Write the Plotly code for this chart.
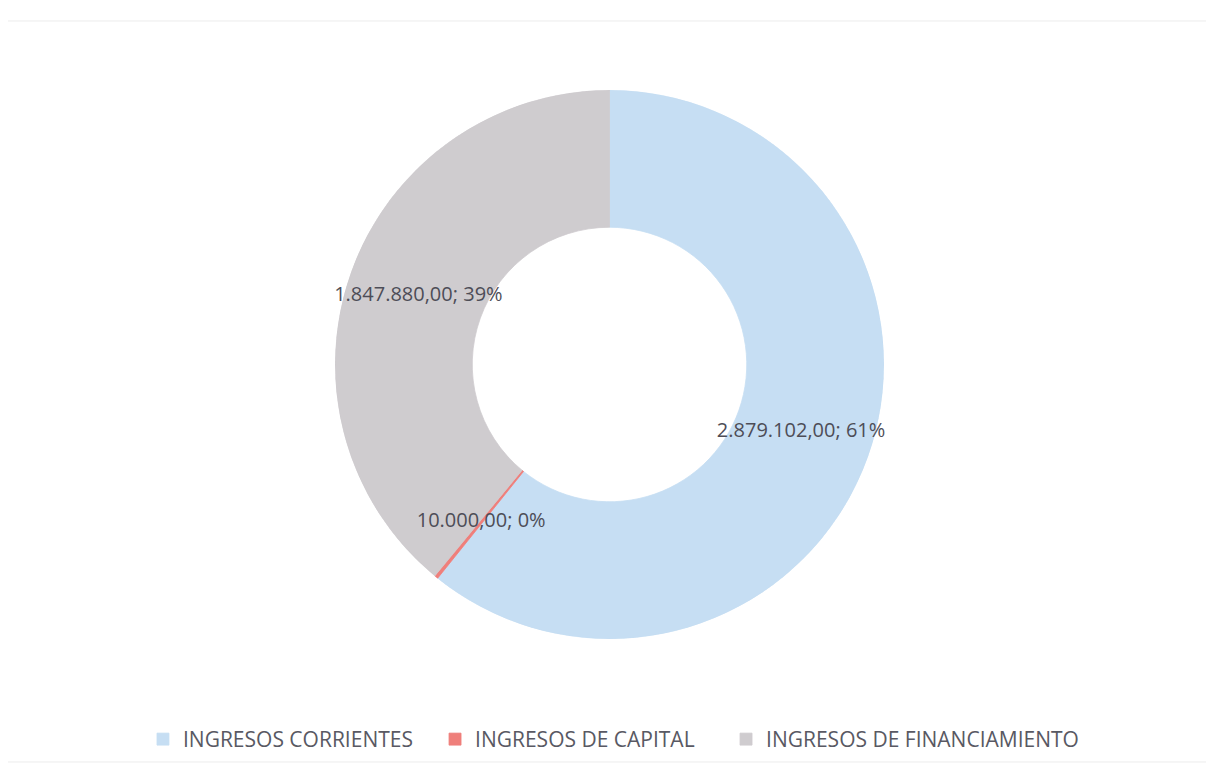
import plotly.graph_objects as go

categories = ["INGRESOS CORRIENTES", "INGRESOS DE CAPITAL", "INGRESOS DE FINANCIAMIENTO"]
values = [2879102.00, 10000.00, 1847880.00]
colors = ["#c6def3", "#ef7f7b", "#cfcccf"]

total = sum(values)


def fmt_es(v):
    s = f"{v:,.2f}"
    return s.replace(",", "X").replace(".", ",").replace("X", ".")


spans = [360.0 * v / total for v in values]
starts = [sum(spans[:i]) for i in range(len(spans))]
mids = [s + w / 2 for s, w in zip(starts, spans)]
labels = [f"{fmt_es(v)}; {round(100 * v / total)}%" for v in values]

HOLE = 0.5
LABEL_R = 0.74
legend_names = ["legend", "legend2", "legend3"]
legend_x = [0.1109, 0.3545, 0.5972]

fig = go.Figure()
for cat, col, mid, span, lg in zip(categories, colors, mids, spans, legend_names):
    fig.add_trace(go.Barpolar(
        name=cat,
        r=[1 - HOLE],
        base=[HOLE],
        theta=[mid],
        width=[span],
        marker=dict(color=col, line=dict(width=0.8, color=col)),
        hovertemplate=cat + "<extra></extra>",
        legend=lg,
    ))

fig.add_trace(go.Scatterpolar(
    r=[LABEL_R] * len(values),
    theta=mids,
    mode="text",
    text=labels,
    textposition="middle center",
    textfont=dict(family="Open Sans, Liberation Sans, sans-serif", size=20, color="#4d4d57"),
    showlegend=False,
    hoverinfo="skip",
))

legend_font = dict(family="Open Sans, Liberation Sans, sans-serif", size=21, color="#595963")
legend_common = dict(orientation="h", xanchor="left", y=-0.183, yanchor="middle",
                     font=legend_font, itemwidth=30, bgcolor="rgba(0,0,0,0)")

fig.update_layout(
    width=1214,
    height=773,
    paper_bgcolor="white",
    plot_bgcolor="white",
    margin=dict(l=2, r=13, t=82, b=142),
    polar=dict(
        domain=dict(x=[0, 1], y=[0, 1]),
        bgcolor="rgba(0,0,0,0)",
        bargap=0,
        radialaxis=dict(range=[0, 1], visible=False, showgrid=False, showline=False,
                        showticklabels=False, ticks=""),
        angularaxis=dict(direction="clockwise", rotation=90, visible=False,
                         showgrid=False, showline=False, showticklabels=False, ticks=""),
    ),
    legend=dict(x=legend_x[0], **legend_common),
    legend2=dict(x=legend_x[1], **legend_common),
    legend3=dict(x=legend_x[2], **legend_common),
    shapes=[dict(
        type="rect", xref="paper", yref="paper",
        x0=-0.0025, x1=0.999, y0=-0.224, y1=1.1257,
        line=dict(color="#ececec", width=1),
    )],
)

fig.write_html("out.html")
